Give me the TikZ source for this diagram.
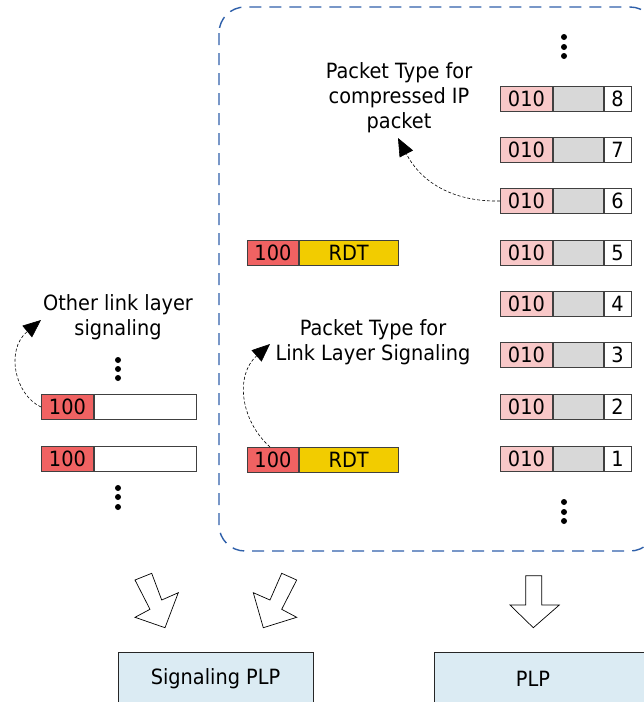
\documentclass[tikz,border=0pt]{standalone}
\usepackage{fontspec}
\setmainfont{DejaVu Sans}[FakeStretch=0.92]
\usetikzlibrary{arrows.meta}
\definecolor{redc}{HTML}{F06262}
\definecolor{pinkc}{HTML}{F8C8C8}
\definecolor{grayc}{HTML}{D8D8D8}
\definecolor{yellowc}{HTML}{F2CC00}
\definecolor{dashblue}{HTML}{2F60AA}
\definecolor{plpblue}{HTML}{DBEBF3}
\newcommand\figfont{\fontsize{21}{25}\selectfont}
\begin{document}
\begin{tikzpicture}[x=1pt,y=-1pt,
  cell/.style={draw=black!75, line width=0.8pt, minimum height=25pt, inner sep=0pt, anchor=west, font=\figfont},
  lbl/.style={align=center, inner sep=0pt, font=\figfont},
  curvy/.style={densely dashed, line width=0.6pt, -{Triangle[length=18pt,width=15pt]}},
  fatarrow/.style={draw=black, line width=0.7pt, fill=white, line join=miter},
  dotc/.style={fill=black},
  plpbox/.style={draw=black!85, line width=0.8pt, fill=plpblue, inner sep=0pt, anchor=north west, minimum height=60pt}]
\clip (0,0) rectangle (644,702);
\useasboundingbox (0,0) rectangle (644,702);
% dashed container
\draw[dashblue, line width=1.4pt, dash pattern=on 12pt off 8pt, rounded corners=26pt] (219,7) rectangle (656,551);
% right column
\foreach \i/\y in {1/459,2/407,3/355,4/304,5/253,6/201,7/150,8/99}{
  \node[cell, fill=pinkc, minimum width=52pt] (p\i) at (500,\y) {010};
  \node[cell, fill=grayc, minimum width=50pt] (g\i) at (p\i.east) {};
  \node[cell, fill=white, minimum width=27pt] (n\i) at (g\i.east) {\i};
}
% RDT rows
\node[cell, fill=redc, minimum width=51pt] (ra) at (247,253) {100};
\node[cell, fill=yellowc, minimum width=99pt] (rda) at (ra.east) {RDT};
\node[cell, fill=redc, minimum width=51pt] (rb) at (247,460) {100};
\node[cell, fill=yellowc, minimum width=99pt] (rdb) at (rb.east) {RDT};
% left rows
\node[cell, fill=redc, minimum width=52pt] (la) at (41,407) {100};
\node[cell, fill=white, minimum width=102pt] (lwa) at (la.east) {};
\node[cell, fill=redc, minimum width=52pt] (lb) at (41,459) {100};
\node[cell, fill=white, minimum width=102pt] (lwb) at (lb.east) {};
% dots
\foreach \x/\y in {564/37,564/47,564/56, 564/502,564/512,564/521, 118/360,118/369,118/378, 118/488,118/497,118/507}{
  \fill[dotc] (\x,\y) circle (3pt);
}
% labels
\node[lbl] (tcomp) at (399,98) {Packet Type for\\compressed IP\\packet};
\node[lbl] (tlls) at (373,342) {Packet Type for\\Link Layer Signaling};
\node[lbl] (tother) at (118,317) {Other link layer\\signaling};
% curved arrows
\coordinate (ha) at (398,138);
\coordinate (hb) at (270,344);
\coordinate (hc) at (41,320);
\draw[curvy] (p6.west) .. controls (450,202) and (420,180) .. (ha);
\draw[curvy] (270,447) .. controls (240,420) and (235,375) .. (hb);
\draw[curvy] (la.west) .. controls (15,395) and (5,350) .. (hc);
% fat arrows
\draw[fatarrow] (135,580) -- (151.7,573.3) -- (161.7,600) -- (178.3,592.7) -- (165,627.7) -- (135,617.3) -- (150,609.3) -- cycle;
\draw[fatarrow] (281.7,573.3) -- (296.7,580) -- (281.7,609.3) -- (296.7,617.3) -- (263.3,627.7) -- (253.3,592.7) -- (270,600) -- cycle;
\draw[fatarrow] (525.7,575.7) -- (541.7,575.7) -- (541.7,605) -- (559.3,605) -- (533.3,627.7) -- (510,605) -- (525.7,605) -- cycle;
% PLP boxes
\node[plpbox, minimum width=195pt] (splp) at (118,652) {};
\node[lbl] (splpt) at (215.5,679) {Signaling PLP};
\node[plpbox, minimum width=230pt] (plp) at (434,652) {};
\node[lbl] (plpt) at (533,679) {PLP};
\end{tikzpicture}
\end{document}
